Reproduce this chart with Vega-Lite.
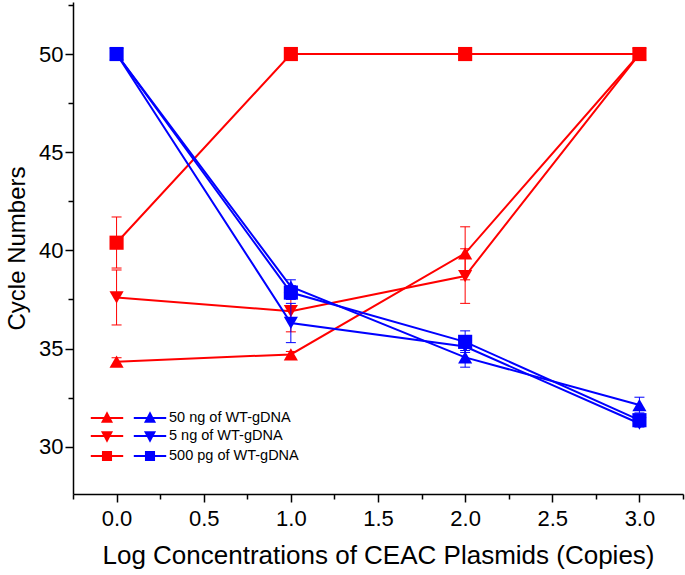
{
  "$schema": "https://vega.github.io/schema/vega-lite/v6.json",
  "width": 610,
  "height": 492,
  "autosize": {"type": "none"},
  "padding": {"left": 73, "top": 2, "right": 2, "bottom": 81},
  "background": "white",
  "config": {
    "font": "Liberation Sans",
    "view": {"stroke": null},
    "axis": {"domainColor": "#000", "domainWidth": 1.5, "tickColor": "#000", "tickWidth": 1.5, "labelColor": "#000", "titleColor": "#000", "grid": false, "titleFontWeight": "normal"}
  },
  "data": {
    "values": [
      {"x": 0, "y": 34.33, "lo": 34.13, "hi": 34.53, "series": "50 ng of WT-gDNA", "set": "A"},
      {"x": 1, "y": 34.7, "lo": 34.55, "hi": 34.85, "series": "50 ng of WT-gDNA", "set": "A"},
      {"x": 2, "y": 39.85, "lo": 38.5, "hi": 41.2, "series": "50 ng of WT-gDNA", "set": "A"},
      {"x": 3, "y": 50, "lo": null, "hi": null, "series": "50 ng of WT-gDNA", "set": "A"},
      {"x": 0, "y": 37.6, "lo": 36.2, "hi": 39.0, "series": "5 ng of WT-gDNA", "set": "A"},
      {"x": 1, "y": 36.9, "lo": 35.85, "hi": 37.95, "series": "5 ng of WT-gDNA", "set": "A"},
      {"x": 2, "y": 38.69, "lo": 37.3, "hi": 40.08, "series": "5 ng of WT-gDNA", "set": "A"},
      {"x": 3, "y": 50, "lo": null, "hi": null, "series": "5 ng of WT-gDNA", "set": "A"},
      {"x": 0, "y": 40.39, "lo": 39.1, "hi": 41.7, "series": "500 pg of WT-gDNA", "set": "A"},
      {"x": 1, "y": 50, "lo": null, "hi": null, "series": "500 pg of WT-gDNA", "set": "A"},
      {"x": 2, "y": 50, "lo": null, "hi": null, "series": "500 pg of WT-gDNA", "set": "A"},
      {"x": 3, "y": 50, "lo": null, "hi": null, "series": "500 pg of WT-gDNA", "set": "A"},
      {"x": 0, "y": 50, "lo": null, "hi": null, "series": "50 ng of WT-gDNA", "set": "B"},
      {"x": 1, "y": 38.15, "lo": 37.8, "hi": 38.5, "series": "50 ng of WT-gDNA", "set": "B"},
      {"x": 2, "y": 34.55, "lo": 34.05, "hi": 35.05, "series": "50 ng of WT-gDNA", "set": "B"},
      {"x": 3, "y": 32.12, "lo": 31.72, "hi": 32.52, "series": "50 ng of WT-gDNA", "set": "B"},
      {"x": 0, "y": 50, "lo": null, "hi": null, "series": "5 ng of WT-gDNA", "set": "B"},
      {"x": 1, "y": 36.3, "lo": 35.3, "hi": 37.3, "series": "5 ng of WT-gDNA", "set": "B"},
      {"x": 2, "y": 35.1, "lo": 34.9, "hi": 35.3, "series": "5 ng of WT-gDNA", "set": "B"},
      {"x": 3, "y": 31.18, "lo": 31.0, "hi": 31.36, "series": "5 ng of WT-gDNA", "set": "B"},
      {"x": 0, "y": 50, "lo": null, "hi": null, "series": "500 pg of WT-gDNA", "set": "B"},
      {"x": 1, "y": 37.85, "lo": 37.5, "hi": 38.2, "series": "500 pg of WT-gDNA", "set": "B"},
      {"x": 2, "y": 35.34, "lo": 34.8, "hi": 35.9, "series": "500 pg of WT-gDNA", "set": "B"},
      {"x": 3, "y": 31.35, "lo": 31.15, "hi": 31.55, "series": "500 pg of WT-gDNA", "set": "B"}
    ]
  },
  "encoding": {
    "x": {
      "field": "x", "type": "quantitative",
      "title": "Log Concentrations of CEAC Plasmids (Copies)",
      "scale": {"domain": [-0.25, 3.25], "nice": false, "zero": false},
      "axis": {
        "values": [-0.25, 0, 0.25, 0.5, 0.75, 1, 1.25, 1.5, 1.75, 2, 2.25, 2.5, 2.75, 3, 3.25],
        "labelExpr": "abs(datum.value*2 - round(datum.value*2)) < 0.001 ? format(datum.value, '.1f') : ''",
        "tickSize": {"condition": {"test": "abs(datum.value*2 - round(datum.value*2)) < 0.001", "value": 8}, "value": 5},
        "labelFontSize": 22, "labelPadding": 6, "titleFontSize": 26, "titlePadding": 13, "labelFlush": false
      }
    },
    "y": {
      "field": "y", "type": "quantitative", "title": "Cycle Numbers",
      "scale": {"domain": [27.59, 52.65], "nice": false, "zero": false},
      "axis": {
        "values": [30, 32.5, 35, 37.5, 40, 42.5, 45, 47.5, 50, 52.5],
        "labelExpr": "datum.value % 5 === 0 ? format(datum.value, 'd') : ''",
        "tickSize": {"condition": {"test": "datum.value % 5 === 0", "value": 8}, "value": 5},
        "labelFontSize": 22, "labelPadding": 2, "titleFontSize": 24, "titlePadding": 9, "labelFlush": false
      }
    }
  },
  "layer": [
    {
      "transform": [{"filter": "datum.set === 'A'"}],
      "layer": [
        {"transform": [{"filter": "datum.lo != null"}], "mark": {"type": "rule", "color": "#ff0000", "strokeWidth": 1}, "encoding": {"y": {"field": "lo", "type": "quantitative", "title": "Cycle Numbers"}, "y2": {"field": "hi"}}},
        {"transform": [{"filter": "datum.lo != null"}], "mark": {"type": "tick", "orient": "horizontal", "color": "#ff0000", "size": 10, "thickness": 1, "opacity": 1}, "encoding": {"y": {"field": "lo", "type": "quantitative", "title": "Cycle Numbers"}}},
        {"transform": [{"filter": "datum.lo != null"}], "mark": {"type": "tick", "orient": "horizontal", "color": "#ff0000", "size": 10, "thickness": 1, "opacity": 1}, "encoding": {"y": {"field": "hi", "type": "quantitative", "title": "Cycle Numbers"}}},
        {"mark": {"type": "line", "color": "#ff0000", "strokeWidth": 2}, "encoding": {"detail": {"field": "series"}}},
        {
          "mark": {"type": "point", "filled": true, "color": "#ff0000", "opacity": 1, "size": 200},
          "encoding": {
            "shape": {
              "field": "series", "type": "nominal",
              "scale": {"domain": ["50 ng of WT-gDNA", "5 ng of WT-gDNA", "500 pg of WT-gDNA"], "range": ["triangle-up", "triangle-down", "square"]},
              "legend": null
            }
          }
        },
        {
          "mark": {"type": "point", "filled": true, "color": "#ff0000", "opacity": 1, "size": 0},
          "encoding": {
            "shape": {
              "field": "series", "type": "nominal",
              "scale": {"domain": ["50 ng of WT-gDNA", "5 ng of WT-gDNA", "500 pg of WT-gDNA"], "range": ["M-1.8,-0.11H1.8V0.11H-1.8ZM0,-0.75L0.67,0.53L-0.67,0.53Z", "M-1.8,-0.11H1.8V0.11H-1.8ZM0,0.75L-0.67,-0.53L0.67,-0.53Z", "M-1.8,-0.11H1.8V0.11H-1.8ZM-0.56,-0.56H0.56V0.56H-0.56Z"]},
              "legend": {
                "orient": "none", "legendX": 24, "legendY": 406, "title": null, "padding": 0,
                "labelExpr": "''", "symbolSize": 324, "rowPadding": -2, "labelFontSize": 14.5,
                "symbolFillColor": "#ff0000", "symbolOpacity": 1
              }
            }
          }
        }
      ],
      "resolve": {"scale": {"shape": "independent"}, "legend": {"shape": "independent"}}
    },
    {
      "transform": [{"filter": "datum.set === 'B'"}],
      "layer": [
        {"transform": [{"filter": "datum.lo != null"}], "mark": {"type": "rule", "color": "#0000ff", "strokeWidth": 1}, "encoding": {"y": {"field": "lo", "type": "quantitative", "title": "Cycle Numbers"}, "y2": {"field": "hi"}}},
        {"transform": [{"filter": "datum.lo != null"}], "mark": {"type": "tick", "orient": "horizontal", "color": "#0000ff", "size": 10, "thickness": 1, "opacity": 1}, "encoding": {"y": {"field": "lo", "type": "quantitative", "title": "Cycle Numbers"}}},
        {"transform": [{"filter": "datum.lo != null"}], "mark": {"type": "tick", "orient": "horizontal", "color": "#0000ff", "size": 10, "thickness": 1, "opacity": 1}, "encoding": {"y": {"field": "hi", "type": "quantitative", "title": "Cycle Numbers"}}},
        {"mark": {"type": "line", "color": "#0000ff", "strokeWidth": 2}, "encoding": {"detail": {"field": "series"}}},
        {
          "mark": {"type": "point", "filled": true, "color": "#0000ff", "opacity": 1, "size": 200},
          "encoding": {
            "shape": {
              "field": "series", "type": "nominal",
              "scale": {"domain": ["50 ng of WT-gDNA", "5 ng of WT-gDNA", "500 pg of WT-gDNA"], "range": ["triangle-up", "triangle-down", "square"]},
              "legend": null
            }
          }
        },
        {
          "mark": {"type": "point", "filled": true, "color": "#0000ff", "opacity": 1, "size": 0},
          "encoding": {
            "shape": {
              "field": "series", "type": "nominal",
              "scale": {"domain": ["50 ng of WT-gDNA", "5 ng of WT-gDNA", "500 pg of WT-gDNA"], "range": ["M-1.8,-0.11H1.8V0.11H-1.8ZM0,-0.75L0.67,0.53L-0.67,0.53Z", "M-1.8,-0.11H1.8V0.11H-1.8ZM0,0.75L-0.67,-0.53L0.67,-0.53Z", "M-1.8,-0.11H1.8V0.11H-1.8ZM-0.56,-0.56H0.56V0.56H-0.56Z"]},
              "legend": {
                "orient": "none", "legendX": 67, "legendY": 406, "title": null, "padding": 0,
                "symbolSize": 324, "rowPadding": -2, "labelFontSize": 14.5, "labelOffset": 9, "labelColor": "#000",
                "symbolFillColor": "#0000ff", "symbolOpacity": 1
              }
            }
          }
        }
      ],
      "resolve": {"scale": {"shape": "independent"}, "legend": {"shape": "independent"}}
    }
  ],
  "resolve": {"scale": {"shape": "independent"}, "legend": {"shape": "independent"}}
}
